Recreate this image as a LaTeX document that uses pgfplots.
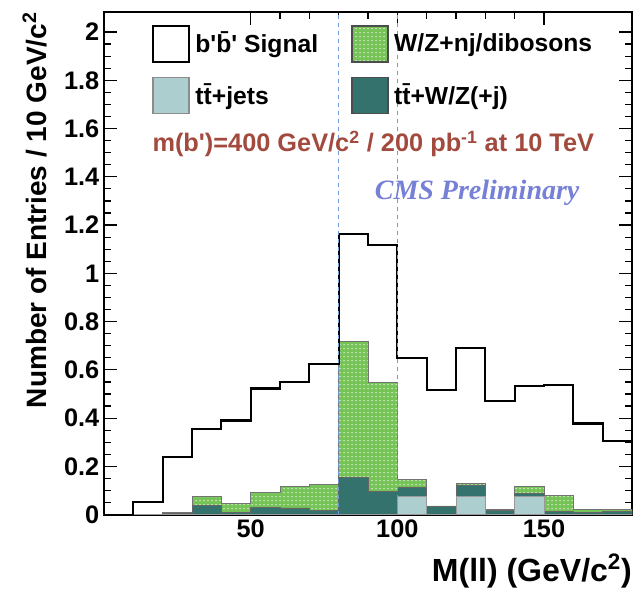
\documentclass[border=0pt]{standalone}
\usepackage{fontspec}
\setmainfont{Liberation Sans}
\newfontfamily\timesfont{Liberation Serif}
\usepackage{pgfplots}
\pgfplotsset{compat=1.18}
\usetikzlibrary{patterns}

\definecolor{wzgreen}{RGB}{118,196,88}
\definecolor{ttwz}{RGB}{52,114,110}
\definecolor{ttjets}{RGB}{172,206,206}
\definecolor{infored}{RGB}{162,74,62}
\definecolor{cmsblue}{RGB}{118,128,214}
\definecolor{zline}{RGB}{110,150,225}

\begin{document}
\begin{tikzpicture}
\begin{axis}[
    name=ax,
    scale only axis,
    width=396pt, height=377pt,
    xmin=0, xmax=180, ymin=0, ymax=2.083,
    axis line style={line width=1.4pt},
    xtick={50,100,150}, minor x tick num=4,
    ytick={0,0.2,0.4,0.6,0.8,1,1.2,1.4,1.6,1.8,2}, minor y tick num=3,
    tick align=inside,
    major tick length=10pt, minor tick length=5pt,
    every tick/.style={line width=0.9pt, black},
    /pgf/number format/assume math mode=true,
    tick label style={font=\bfseries\fontsize{19}{19}\selectfont},
    xlabel={M(ll) (GeV/c\textsuperscript{2})},
    xlabel style={at={(axis description cs:1,-0.077)}, anchor=north east, inner sep=0pt,
        font=\bfseries\fontsize{24}{24}\selectfont},
    ylabel={Number of Entries / 10 GeV/c\textsuperscript{2}},
    ylabel style={at={(axis description cs:-0.108,1)}, anchor=south east, inner sep=0pt,
        font=\bfseries\fontsize{21}{21}\selectfont},
    legend columns=2,
    legend cell align=left,
    legend style={draw=none, fill=none, at={(axis description cs:0.083,0.98)}, anchor=north west,
        font=\bfseries\fontsize{18.5}{22}\selectfont, row sep=10.5pt,
        /tikz/every odd column/.append style={column sep=2pt},
        /tikz/every even column/.append style={column sep=23pt}},
    legend image code/.code={\draw[#1] (0pt,-14pt) rectangle (27pt,13pt);},
]

% legend entries in the reference order
\addlegendimage{fill=white, draw=black, line width=1.5pt}
\addlegendentry{b\textquotesingle\={b}\textquotesingle\ Signal}
\addlegendimage{fill=wzgreen, draw=black!70, line width=1pt, postaction={pattern=dots, pattern color=white}}
\addlegendentry{W/Z+nj/dibosons}
\addlegendimage{fill=ttjets, draw=black!45, line width=1pt}
\addlegendentry{t\={t}+jets}
\addlegendimage{fill=ttwz, draw=black!70, line width=1pt}
\addlegendentry{t\={t}+W/Z(+j)}

% stacked backgrounds, drawn as cumulative totals
% W/Z+nj/dibosons on top of the stack
\addplot[const plot, fill=wzgreen, draw=black!55, line width=0.6pt,
    postaction={pattern=dots, pattern color=white}, forget plot] coordinates {
    (0,0) (10,0) (20,0.008) (30,0.075) (40,0.045) (50,0.092) (60,0.118)
    (70,0.125) (80,0.718) (90,0.548) (100,0.145) (110,0.036) (120,0.130)
    (130,0.020) (140,0.116) (150,0.081) (160,0.020) (170,0.022) (180,0.022)
} \closedcycle;

% ttbar+W/Z(+j)
\addplot[const plot, fill=ttwz, draw=black!60, line width=0.6pt, forget plot] coordinates {
    (0,0) (10,0) (20,0.006) (30,0.040) (40,0.010) (50,0.031) (60,0.028)
    (70,0.019) (80,0.153) (90,0.097) (100,0.112) (110,0.033) (120,0.123)
    (130,0.018) (140,0.089) (150,0.014) (160,0.010) (170,0.012) (180,0.012)
} \closedcycle;

% ttbar+jets at the bottom
\addplot[const plot, fill=ttjets, draw=black!40, line width=0.6pt, forget plot] coordinates {
    (0,0) (10,0) (20,0) (30,0) (40,0) (50,0) (60,0) (70,0) (80,0) (90,0)
    (100,0.075) (110,0) (120,0.076) (130,0) (140,0.076) (150,0) (160,0) (170,0) (180,0)
} \closedcycle;

% b'b' signal
\addplot[const plot, draw=black, line width=1.6pt, forget plot] coordinates {
    (0,0) (10,0.051) (20,0.240) (30,0.355) (40,0.390) (50,0.523) (60,0.550)
    (70,0.625) (80,1.162) (90,1.118) (100,0.651) (110,0.515) (120,0.689)
    (130,0.470) (140,0.534) (150,0.538) (160,0.378) (170,0.306) (180,0.306)
};

% Z window
\addplot[zline, line width=1pt, dash pattern=on 3pt off 3pt, forget plot] coordinates {(80,0) (80,2.083)};
\addplot[zline, line width=1pt, dash pattern=on 3pt off 3pt, forget plot] coordinates {(100,0) (100,2.083)};

\node[anchor=base west, text=infored, font=\bfseries\fontsize{19}{19}\selectfont]
    at (axis description cs:0.083,0.7217)
    {m(b\textquotesingle)=400 GeV/c\textsuperscript{2} / 200 pb\textsuperscript{-1} at 10 TeV};
\node[anchor=base west, text=cmsblue, font=\timesfont\bfseries\itshape\fontsize{21}{21}\selectfont]
    at (axis description cs:0.504,0.626) {CMS Preliminary};
\end{axis}
\pgfresetboundingbox
\path[use as bounding box] ([xshift=-78pt,yshift=-61.5pt]ax.south west)
    rectangle ([xshift=2.25pt,yshift=9pt]ax.north east);
\end{tikzpicture}
\end{document}
